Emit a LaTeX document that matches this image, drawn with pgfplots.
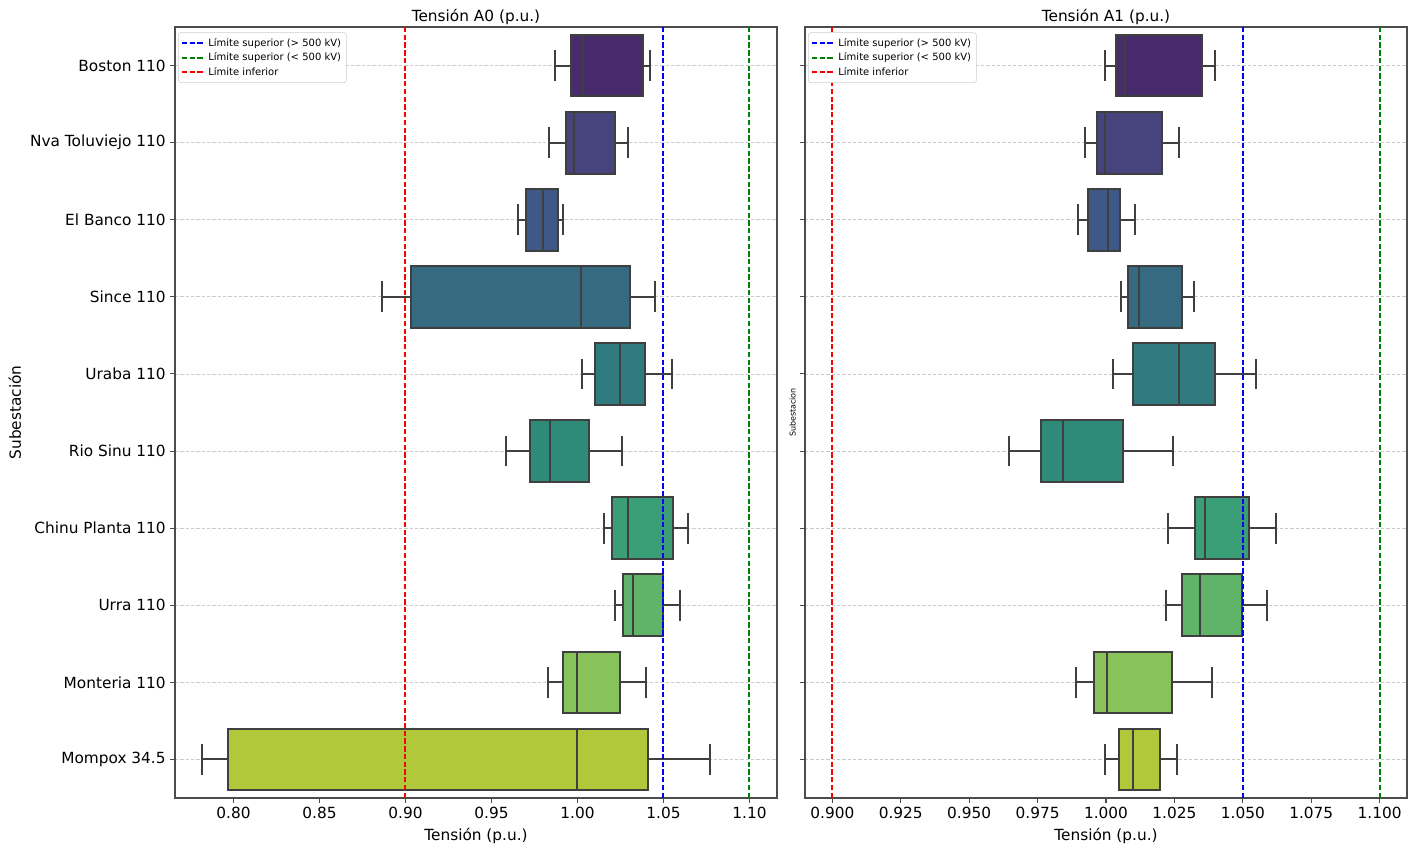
\documentclass[border=0pt]{standalone}
\usepackage{fontspec}
\setmainfont{DejaVu Sans}
\usepackage{pgfplots}
\pgfplotsset{compat=1.18}

\definecolor{c0}{HTML}{482B6B}
\definecolor{c1}{HTML}{47437C}
\definecolor{c2}{HTML}{3E5888}
\definecolor{c3}{HTML}{366A81}
\definecolor{c4}{HTML}{2F7B7F}
\definecolor{c5}{HTML}{2E8B7A}
\definecolor{c6}{HTML}{3A9E76}
\definecolor{c7}{HTML}{5FB46A}
\definecolor{c8}{HTML}{88C25A}
\definecolor{c9}{HTML}{B0C83A}
\definecolor{edge}{HTML}{3F3F3F}
\definecolor{limblue}{HTML}{0000FF}
\definecolor{limgreen}{HTML}{008000}
\definecolor{limred}{HTML}{FF0000}

\pgfplotsset{
 panel/.style={
  width=451.5pt, height=578.25pt, scale only axis,
  ymin=-0.5, ymax=9.5, y dir=reverse,
  ytick={0,...,9},
  ymajorgrids, grid style={dash pattern=on 2.5pt off 1.5pt, black!20, line width=0.6pt},
  axis line style={black!70, line width=0.8pt},
  tick style={black!70, line width=0.8pt},
  tick align=outside, major tick length=3.5pt,
  xtick pos=bottom, ytick pos=left,
  ticklabel style={font=\fontsize{11.5}{13}\selectfont},
  /pgf/number format/assume math mode=true,
  xlabel={Tensión (p.u.)},
  label style={font=\fontsize{11.5}{13}\selectfont},
  title style={font=\fontsize{11.5}{13}\selectfont, yshift=-8pt},
  legend style={at={(0.005,0.993)}, anchor=north west,
    font=\fontsize{7.5}{9}\selectfont, draw=black!20, rounded corners=2pt,
    row sep=-0.5pt, inner sep=2pt,
    /tikz/every even column/.style={column sep=1pt}},
  legend cell align=left,
 },
 bxs/.style={draw=edge, line width=1.5pt, mark=none, forget plot, line join=miter},
 lim/.style={line width=1.5pt, dash pattern=on 4pt off 1.8pt, mark=none},
}

% #1 position, #2 lower whisker, #3 lower quartile, #4 median, #5 upper quartile, #6 upper whisker, #7 colour
\newcommand\bxp[7]{%
 \pgfmathsetmacro\ylo{#1-0.4}\pgfmathsetmacro\yhi{#1+0.4}%
 \pgfmathsetmacro\clo{#1-0.2}\pgfmathsetmacro\chi{#1+0.2}%
 \addplot[bxs] coordinates {(#2,#1) (#3,#1)};
 \addplot[bxs] coordinates {(#5,#1) (#6,#1)};
 \addplot[bxs] coordinates {(#2,\clo) (#2,\chi)};
 \addplot[bxs] coordinates {(#6,\clo) (#6,\chi)};
 \addplot[bxs, fill=#7, line cap=rect] coordinates {(#3,\ylo) (#5,\ylo) (#5,\yhi) (#3,\yhi) (#3,\ylo)};
 \addplot[bxs] coordinates {(#4,\ylo) (#4,\yhi)};
}

\begin{document}
\begin{tikzpicture}
\path[use as bounding box] (-131.25pt,-34.5pt) rectangle (934.5pt,598.5pt);

\begin{axis}[panel,
  title={Tensión A0 (p.u.)},
  xmin=0.766, xmax=1.116,
  xtick={0.80,0.85,0.90,0.95,1.00,1.05,1.10},
  xticklabel style={/pgf/number format/fixed, /pgf/number format/fixed zerofill, /pgf/number format/precision=2},
  yticklabels={Boston 110, Nva Toluviejo 110, El Banco 110, Since 110, Uraba 110, Rio Sinu 110, Chinu Planta 110, Urra 110, Monteria 110, Mompox 34.5},
  ylabel={Subestación},
]
\bxp{0}{0.9869}{0.9962}{1.0032}{1.0380}{1.0423}{c0}
\bxp{1}{0.9833}{0.9934}{0.9980}{1.0217}{1.0292}{c1}
\bxp{2}{0.9652}{0.9699}{0.9801}{0.9885}{0.9914}{c2}
\bxp{3}{0.8864}{0.9032}{1.0023}{1.0303}{1.0450}{c3}
\bxp{4}{1.0027}{1.0102}{1.0249}{1.0394}{1.0550}{c4}
\bxp{5}{0.9586}{0.9722}{0.9842}{1.0068}{1.0256}{c5}
\bxp{6}{1.0152}{1.0201}{1.0294}{1.0557}{1.0640}{c6}
\bxp{7}{1.0217}{1.0267}{1.0321}{1.0498}{1.0595}{c7}
\bxp{8}{0.9828}{0.9916}{0.9998}{1.0247}{1.0398}{c8}
\bxp{9}{0.7817}{0.7968}{0.9998}{1.0412}{1.0771}{c9}
\addplot[lim, draw=limblue] coordinates {(1.05,-0.5) (1.05,9.5)};
\addlegendentry{Límite superior (> 500 kV)}
\addplot[lim, draw=limgreen] coordinates {(1.10,-0.5) (1.10,9.5)};
\addlegendentry{Límite superior (< 500 kV)}
\addplot[lim, draw=limred] coordinates {(0.90,-0.5) (0.90,9.5)};
\addlegendentry{Límite inferior}
\end{axis}

\begin{axis}[panel, at={(472.5pt,0pt)},
  title={Tensión A1 (p.u.)},
  xmin=0.890, xmax=1.110,
  xtick={0.900,0.925,0.950,0.975,1.000,1.025,1.050,1.075,1.100},
  xticklabel style={/pgf/number format/fixed, /pgf/number format/fixed zerofill, /pgf/number format/precision=3},
  yticklabels={},
  ylabel={Subestacion},
  ylabel style={font=\fontsize{6}{7}\selectfont, yshift=-7pt},
]
\bxp{0}{0.9997}{1.0035}{1.0069}{1.0349}{1.0399}{c0}
\bxp{1}{0.9923}{0.9968}{0.9995}{1.0203}{1.0268}{c1}
\bxp{2}{0.9896}{0.9935}{1.0009}{1.0052}{1.0106}{c2}
\bxp{3}{1.0056}{1.0079}{1.0120}{1.0278}{1.0322}{c3}
\bxp{4}{1.0025}{1.0100}{1.0268}{1.0400}{1.0547}{c4}
\bxp{5}{0.9644}{0.9762}{0.9842}{1.0062}{1.0245}{c5}
\bxp{6}{1.0228}{1.0325}{1.0363}{1.0524}{1.0621}{c6}
\bxp{7}{1.0218}{1.0278}{1.0345}{1.0497}{1.0589}{c7}
\bxp{8}{0.9891}{0.9957}{1.0004}{1.0241}{1.0386}{c8}
\bxp{9}{0.9997}{1.0049}{1.0098}{1.0197}{1.0261}{c9}
\addplot[lim, draw=limblue] coordinates {(1.05,-0.5) (1.05,9.5)};
\addlegendentry{Límite superior (> 500 kV)}
\addplot[lim, draw=limgreen] coordinates {(1.10,-0.5) (1.10,9.5)};
\addlegendentry{Límite superior (< 500 kV)}
\addplot[lim, draw=limred] coordinates {(0.90,-0.5) (0.90,9.5)};
\addlegendentry{Límite inferior}
\end{axis}
\end{tikzpicture}
\end{document}
